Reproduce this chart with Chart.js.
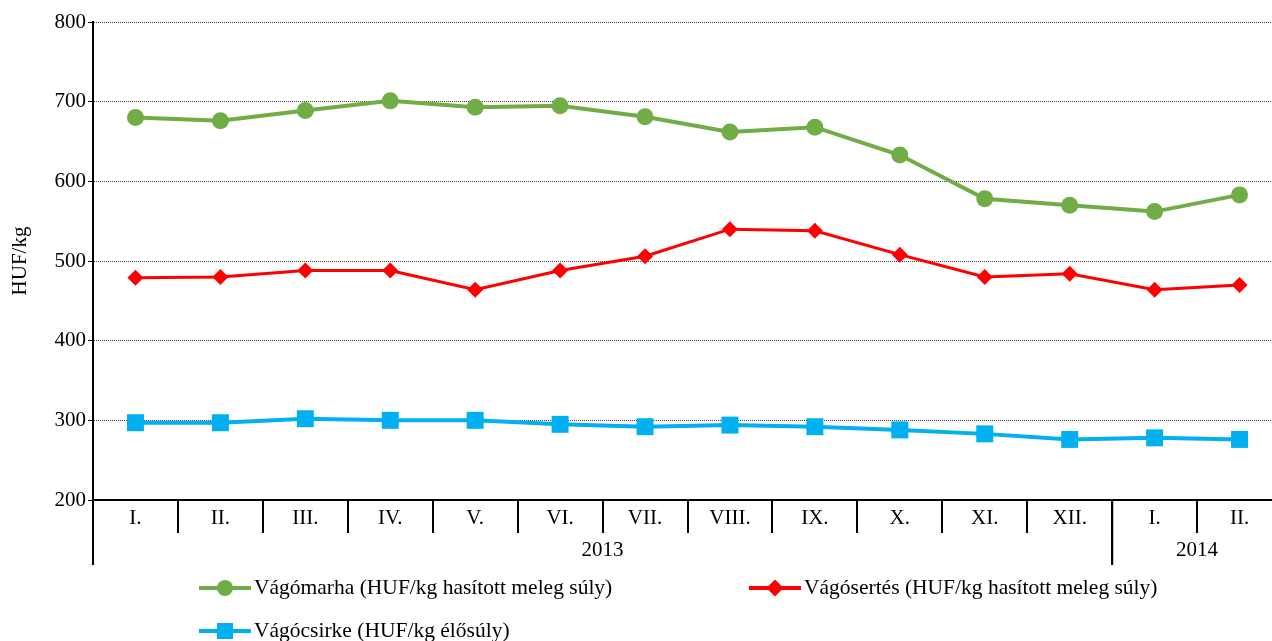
<!DOCTYPE html>
<html>
<head>
<meta charset="utf-8">
<script src="https://cdn.jsdelivr.net/npm/chart.js@4/dist/chart.umd.min.js"></script>
<style>
  body { margin: 0; background: #fff; }
  #wrap { position: relative; width: 1272px; height: 641px; overflow: hidden; }
  #chart { position: absolute; left: 0; top: 0; }
  .leg { position: absolute; display: flex; align-items: center; font: 21.5px "Liberation Serif", serif; color: #000; white-space: nowrap; }
  .sym { position: relative; width: 52px; height: 24px; margin-right: 3px; }
  .sym .ln { position: absolute; left: 0; right: 0; top: 10px; height: 4px; }
  .sym .mk { position: absolute; }
</style>
</head>
<body>
<div id="wrap">
  <canvas id="chart" width="1294" height="641"></canvas>
  <div id="legend"></div>
</div>
<script>
var months = ['I.', 'II.', 'III.', 'IV.', 'V.', 'VI.', 'VII.', 'VIII.', 'IX.', 'X.', 'XI.', 'XII.', 'I.', 'II.'];
var years = ['2013', '2014'];
var yearSpans = [12, 2];

var marha = [680, 676, 689, 701, 693, 695, 681, 662, 668, 633, 578, 570, 562, 583];
var sertes = [479, 480, 488, 488, 464, 488, 506, 540, 538, 508, 480, 484, 464, 470];
var csirke = [297, 297, 302, 300, 300, 295, 292, 294, 292, 288, 283, 276, 278, 276];

var seriesNames = [
    'Vágómarha (HUF/kg hasított meleg súly)',
    'Vágósertés (HUF/kg hasított meleg súly)',
    'Vágócsirke (HUF/kg élősúly)'
];

var green = '#70AD47', red = '#FF0000', blue = '#00B0F0';
var serif = '"Liberation Serif", serif';

// year row under the month labels, with long separators
const yearPlugin = {
    id: 'years',
    afterDraw(chart) {
        const xs = chart.scales.x;
        const ctx = chart.ctx;
        const step = xs.getPixelForValue(1) - xs.getPixelForValue(0);
        const top = xs.top;
        const bottom = xs.top + 65;
        ctx.save();
        ctx.strokeStyle = '#000';
        ctx.lineWidth = 2;
        ctx.fillStyle = '#000';
        ctx.font = '21px ' + serif;
        ctx.textAlign = 'center';
        ctx.textBaseline = 'middle';
        let start = 0;
        years.forEach((yr, i) => {
            const end = start + yearSpans[i];
            const x0 = xs.getPixelForValue(start) - step / 2;
            const x1 = xs.getPixelForValue(end - 1) + step / 2;
            [x0, x1].forEach(px => {
                ctx.beginPath();
                ctx.moveTo(px, top);
                ctx.lineTo(px, bottom);
                ctx.stroke();
            });
            ctx.fillText(yr, (x0 + x1) / 2, top + 50);
            start = end;
        });
        ctx.restore();
    }
};

const ctx = document.getElementById('chart').getContext('2d');
const priceChart = new Chart(ctx, {
    type: 'line',
    data: {
        labels: months,
        datasets: [{
            label: seriesNames[0],
            data: marha,
            borderColor: green,
            backgroundColor: green,
            borderWidth: 4,
            pointStyle: 'circle',
            pointRadius: 8.5,
            pointBorderWidth: 0
        }, {
            label: seriesNames[1],
            data: sertes,
            borderColor: red,
            backgroundColor: red,
            borderWidth: 3,
            pointStyle: 'rectRot',
            pointRadius: 8,
            pointBorderWidth: 0
        }, {
            label: seriesNames[2],
            data: csirke,
            borderColor: blue,
            backgroundColor: blue,
            borderWidth: 4,
            pointStyle: 'rect',
            pointRadius: 12,
            pointBorderWidth: 0
        }]
    },
    options: {
        responsive: false,
        animation: false,
        layout: { padding: { top: 22, right: 1, left: 0, bottom: 0 } },
        plugins: {
            legend: { display: false },
            tooltip: { enabled: false }
        },
        elements: { line: { tension: 0 } },
        scales: {
            x: {
                offset: true,
                grid: {
                    offset: true,
                    drawOnChartArea: false,
                    tickLength: 33,
                    color: '#000',
                    lineWidth: 2
                },
                border: { color: '#000', width: 2 },
                ticks: {
                    color: '#000',
                    font: { family: serif, size: 21 },
                    maxRotation: 0,
                    autoSkip: false,
                    padding: -27
                },
                afterFit: s => { s.height = 141; }
            },
            y: {
                min: 200,
                max: 800,
                ticks: {
                    stepSize: 100,
                    color: '#000',
                    font: { family: serif, size: 21 },
                    padding: 2
                },
                grid: {
                    color: '#444',
                    lineWidth: 1,
                    tickLength: 5,
                    tickColor: '#000',
                    tickBorderDash: []
                },
                border: { color: '#000', width: 2, dash: [1, 1] },
                title: {
                    display: true,
                    text: 'HUF/kg',
                    color: '#000',
                    font: { family: serif, size: 21 },
                    padding: { top: 8, bottom: 0 }
                },
                afterFit: s => { s.width = 93; }
            }
        }
    },
    plugins: [yearPlugin]
});

// legend as html, built from the dataset names and colours
var legendItems = [
    { name: seriesNames[0], color: green, shape: 'circle', left: 199, top: 575 },
    { name: seriesNames[1], color: red, shape: 'diamond', left: 749, top: 575 },
    { name: seriesNames[2], color: blue, shape: 'square', left: 199, top: 618 }
];
var legendEl = document.getElementById('legend');
legendItems.forEach(function (it) {
    var mk;
    if (it.shape === 'circle') {
        mk = '<div class="mk" style="left:18px;top:4px;width:16px;height:16px;border-radius:50%;background:' + it.color + '"></div>';
    } else if (it.shape === 'diamond') {
        mk = '<div class="mk" style="left:20px;top:6px;width:12px;height:12px;transform:rotate(45deg);background:' + it.color + '"></div>';
    } else {
        mk = '<div class="mk" style="left:18px;top:4px;width:16px;height:16px;background:' + it.color + '"></div>';
    }
    var d = document.createElement('div');
    d.className = 'leg';
    d.style.left = it.left + 'px';
    d.style.top = it.top + 'px';
    d.innerHTML = '<div class="sym"><div class="ln" style="background:' + it.color + '"></div>' + mk + '</div><span>' + it.name + '</span>';
    legendEl.appendChild(d);
});
</script>
</body>
</html>
